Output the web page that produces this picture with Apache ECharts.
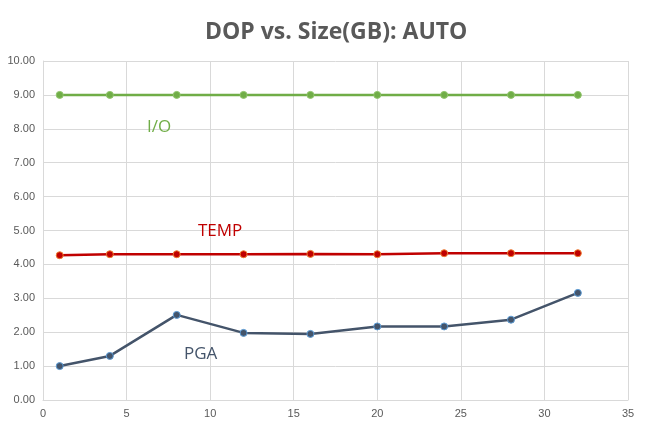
<!DOCTYPE html>
<html><head><meta charset="utf-8">
<script src="https://cdn.jsdelivr.net/npm/echarts@6/dist/echarts.min.js"></script>
<style>html,body{margin:0;padding:0;background:#fff}#c{width:650px;height:429px}</style>
</head><body><div id="c"></div>
<script>
var sizes = [1, 4, 8, 12, 16, 20, 24, 28, 32];
var ioValues = [9.00, 9.00, 9.00, 9.00, 9.00, 9.00, 9.00, 9.00, 9.00];
var tempValues = [4.27, 4.30, 4.30, 4.30, 4.31, 4.30, 4.33, 4.33, 4.33];
var pgaValues = [1.00, 1.30, 2.51, 1.98, 1.95, 2.17, 2.17, 2.37, 3.16];

function pairs(vals){ return sizes.map(function(x,i){ return [x, vals[i]]; }); }

var chart = echarts.init(document.getElementById('c'));
var axisText = {color:'#595959', fontSize:11, fontFamily:'Liberation Sans'};
function mk(name, vals, lineColor, fill, border){
  return {
    name:name, type:'line', data:pairs(vals), symbol:'circle', symbolSize:7,
    lineStyle:{color:lineColor, width:2.5},
    itemStyle:{color:fill, borderColor:border, borderWidth:1},
    animation:false
  };
}
chart.setOption({
  animation:false,
  title:{text:'DOP vs. Size(GB): AUTO', left:200, top:16,
    textStyle:{fontFamily:'Open Sans', fontWeight:'bold', fontSize:23, color:'#595959'}},
  grid:{left:43, right:22, top:61, bottom:29},
  xAxis:{type:'value', min:0, max:35, interval:5,
    axisLine:{show:true, lineStyle:{color:'#d9d9d9'}}, axisTick:{show:false},
    splitLine:{show:true, lineStyle:{color:'#d9d9d9'}},
    axisLabel:axisText},
  yAxis:{type:'value', min:0, max:10, interval:1,
    axisLine:{show:true, lineStyle:{color:'#d9d9d9'}}, axisTick:{show:false},
    splitLine:{show:true, lineStyle:{color:'#d9d9d9'}},
    axisLabel:Object.assign({formatter:function(v){return v.toFixed(2);}}, axisText)},
  series:[
    mk('I/O', ioValues, '#70ad47', '#70ad47', '#8fc46a'),
    mk('TEMP', tempValues, '#c00000', '#c00000', '#ed7d31'),
    mk('PGA', pgaValues, '#44546a', '#44546a', '#5b9bd5')
  ],
  graphic:[
    {type:'text', z:100, left:147, top:119, style:{text:'I/O', fill:'#70ad47', font:'17px "Open Sans"'}},
    {type:'text', z:100, left:198, top:223, style:{text:'TEMP', fill:'#c00000', font:'17px "Open Sans"'}},
    {type:'text', z:100, left:184, top:346, style:{text:'PGA', fill:'#44546a', font:'17px "Open Sans"'}}
  ]
});
</script></body></html>
